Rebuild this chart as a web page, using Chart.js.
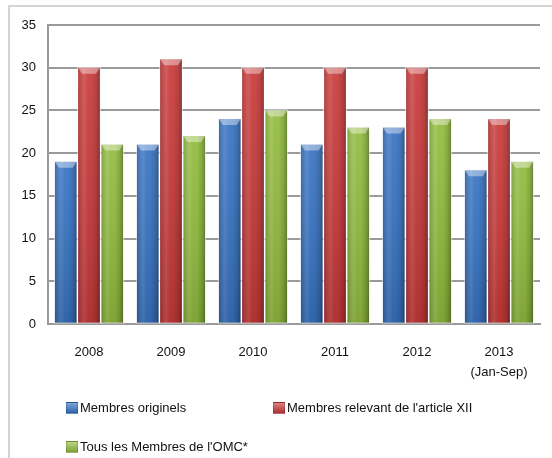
<!DOCTYPE html>
<html>
<head>
<meta charset="utf-8">
<script src="https://cdn.jsdelivr.net/npm/chart.js@4"></script>
<style>
  html, body { margin: 0; padding: 0; background: #fff; overflow: hidden; }
  #wrap { position: relative; width: 552px; height: 458px; }
  #frame { position: absolute; left: 8px; top: 5px; width: 600px; height: 500px;
           border-left: 2px solid #d4d4d4; border-top: 2px solid #d4d4d4; }
  #chart { position: absolute; left: 0; top: 0; }
  .legend { position: absolute; font: 13px "Liberation Sans", Arial, sans-serif; color: #111;
            display: flex; align-items: center; white-space: nowrap; }
  .legend i { display: inline-block; width: 10px; height: 10px; margin-right: 2px; }
</style>
</head>
<body>
<div id="wrap">
  <div id="frame"></div>
  <canvas id="chart" width="552" height="458"></canvas>
  <div id="legend"></div>
</div>
<script>
// Years on the x axis
const years = ['2008', '2009', '2010', '2011', '2012', ['2013', '(Jan-Sep)']];

// Series values
const originalMembers = [19, 21, 24, 21, 23, 18];
const articleXII = [30, 31, 30, 30, 30, 24];
const allWTO = [21, 22, 25, 23, 24, 19];

const seriesNames = ['Membres originels', "Membres relevant de l'article XII", "Tous les Membres de l'OMC*"];

// Bar colors
const blue = '#3774c4';
const red = '#cb3a3a';
const green = '#93be3e';

const gridGray = '#9a9a9a';

// Shade each bar like a rounded column: side gradient + light top cap
const barShading = {
  id: 'barShading',
  afterDatasetDraw(chart, args) {
    const ctx = chart.ctx;
    const meta = args.meta;
    ctx.save();
    meta.data.forEach(bar => {
      const p = bar.getProps(['x', 'y', 'base', 'width'], true);
      const left = p.x - p.width / 2;
      const w = p.width;
      const h = p.base - p.y;

      let g = ctx.createLinearGradient(left, 0, left + w, 0);
      g.addColorStop(0, 'rgba(0,0,0,0.18)');
      g.addColorStop(0.3, 'rgba(255,255,255,0.10)');
      g.addColorStop(0.6, 'rgba(0,0,0,0.0)');
      g.addColorStop(0.85, 'rgba(0,0,0,0.15)');
      g.addColorStop(1, 'rgba(0,0,0,0.35)');
      ctx.fillStyle = g;
      ctx.fillRect(left, p.y, w, h);

      g = ctx.createLinearGradient(0, p.y, 0, p.base);
      g.addColorStop(0, 'rgba(255,255,255,0.08)');
      g.addColorStop(1, 'rgba(0,0,0,0.12)');
      ctx.fillStyle = g;
      ctx.fillRect(left, p.y, w, h);

      // top cap
      ctx.beginPath();
      ctx.moveTo(left, p.y);
      ctx.lineTo(left + w, p.y);
      ctx.lineTo(left + w - 4, p.y + 6);
      ctx.lineTo(left + 4, p.y + 6);
      ctx.closePath();
      ctx.fillStyle = 'rgba(255,255,255,0.4)';
      ctx.fill();

      ctx.strokeStyle = 'rgba(255,255,255,0.55)';
      ctx.lineWidth = 1;
      ctx.strokeRect(left - 0.5, p.y - 0.5, w + 1, h + 0.5);
    });
    ctx.restore();
  }
};

const ctx = document.getElementById('chart').getContext('2d');
const chart = new Chart(ctx, {
  type: 'bar',
  data: {
    labels: years,
    datasets: [
      { label: seriesNames[0], data: originalMembers, backgroundColor: blue },
      { label: seriesNames[1], data: articleXII, backgroundColor: red },
      { label: seriesNames[2], data: allWTO, backgroundColor: green }
    ]
  },
  options: {
    responsive: false,
    animation: false,
    layout: { padding: { top: 25, right: 12, left: 0, bottom: 0 } },
    datasets: {
      bar: { categoryPercentage: 0.85, barPercentage: 0.94 }
    },
    plugins: {
      legend: { display: false },
      tooltip: { enabled: false }
    },
    scales: {
      x: {
        grid: { display: false },
        border: { color: gridGray, width: 2 },
        ticks: {
          color: '#111',
          font: { family: 'Liberation Sans', size: 13, lineHeight: 1.5 },
          padding: 11
        },
        afterFit(scale) { scale.height = 134; }
      },
      y: {
        min: 0,
        max: 35,
        ticks: {
          stepSize: 5,
          color: '#111',
          font: { family: 'Liberation Sans', size: 13 },
          padding: 12
        },
        grid: { color: gridGray, lineWidth: 2, drawTicks: false },
        border: { color: gridGray, width: 2 },
        afterFit(scale) { scale.width = 48; }
      }
    }
  },
  plugins: [barShading]
});

// Legend laid out in two rows under the axis
const legendSpots = [
  { left: 66, top: 400 },
  { left: 273, top: 400 },
  { left: 66, top: 439 }
];
const legendEl = document.getElementById('legend');
chart.data.datasets.forEach((ds, i) => {
  const item = document.createElement('div');
  item.className = 'legend';
  item.style.left = legendSpots[i].left + 'px';
  item.style.top = legendSpots[i].top + 'px';
  const box = document.createElement('i');
  box.style.background = 'linear-gradient(to bottom, rgba(255,255,255,0.35), rgba(0,0,0,0.15)), ' + ds.backgroundColor;
  box.style.border = '1px solid rgba(0,0,0,0.15)';
  item.appendChild(box);
  item.appendChild(document.createTextNode(ds.label));
  legendEl.appendChild(item);
});
</script>
</body>
</html>
